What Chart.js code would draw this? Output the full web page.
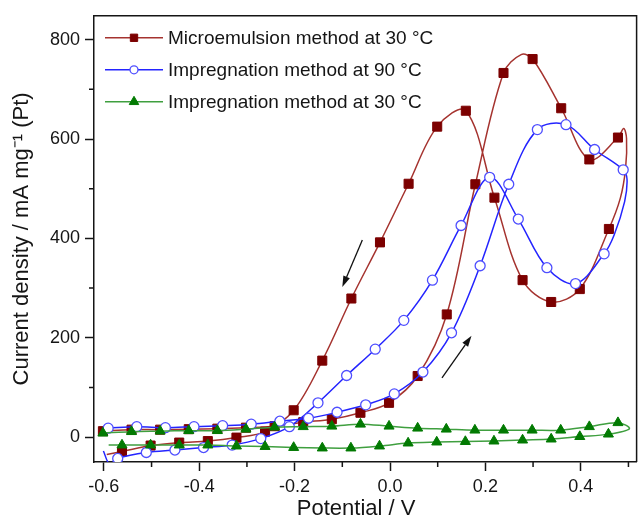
<!DOCTYPE html>
<html>
<head>
<meta charset="utf-8">
<script src="https://cdn.jsdelivr.net/npm/chart.js@4.4.1/dist/chart.umd.min.js"></script>
<style>
  html, body { margin: 0; padding: 0; background: #fff; }
  #wrap { position: relative; width: 644px; height: 518px; }
</style>
</head>
<body>
<div id="wrap"><canvas id="cvChart"></canvas></div>
<script>
// Cyclic voltammograms, current density vs potential
const seriesNames = [
  'Microemulsion method at 30 °C',
  'Impregnation method at 90 °C',
  'Impregnation method at 30 °C'
];

// Microemulsion, 30 °C: forward sweep from -0.6 V, then back from 0.5 V
const microV = [-0.602, -0.542, -0.482, -0.422, -0.362, -0.302, -0.242, -0.182, -0.122, -0.062,
  -0.002, 0.058, 0.119, 0.179, 0.238, 0.275, 0.299, 0.359, 0.418, 0.478,
  0.490, 0.496, 0.494, 0.483, 0.459, 0.398, 0.338, 0.278, 0.219, 0.159,
  0.099, 0.039, -0.021, -0.081, -0.142, -0.202, -0.262, -0.322, -0.382, -0.442,
  -0.502, -0.562, -0.594];
const microJ = [12, 15, 15, 16, 17, 19, 22, 30, 36, 49,
  69, 123, 247, 509, 733, 770, 761, 662, 559, 603,
  621, 601, 541, 481, 419, 298, 272, 316, 482, 657,
  625, 510, 392, 279, 154, 54, 11, -1, -8, -11,
  -17, -29, -35];
// points on the trace without a symbol (peak top, turn at 0.5 V, end)
const microPlain = [15, 20, 21, 22, 23, 42];

// Impregnation, 90 °C
const imp90V = [-0.591, -0.531, -0.471, -0.411, -0.351, -0.291, -0.231, -0.171, -0.111, -0.051,
  0.009, 0.069, 0.129, 0.189, 0.249, 0.309, 0.369, 0.429, 0.489, 0.497,
  0.492, 0.470, 0.449, 0.389, 0.329, 0.269, 0.209, 0.149, 0.089, 0.029,
  -0.031, -0.091, -0.151, -0.211, -0.271, -0.331, -0.391, -0.451, -0.511, -0.571,
  -0.588, -0.601];
const imp90J = [18, 21, 19, 21, 23, 26, 32, 38, 50, 65,
  87, 131, 210, 345, 509, 619, 629, 579, 538, 519,
  474, 407, 369, 309, 341, 439, 523, 426, 316, 235,
  177, 124, 69, 21, -3, -16, -21, -26, -31, -43,
  -54, -28];
const imp90Plain = [19, 20, 21, 40, 41];

// Impregnation, 30 °C
const imp30V = [-0.590, -0.562, -0.502, -0.442, -0.382, -0.322, -0.262, -0.202, -0.142, -0.082,
  -0.022, 0.038, 0.098, 0.158, 0.218, 0.278, 0.338, 0.398, 0.458, 0.502,
  0.478, 0.418, 0.358, 0.298, 0.238, 0.178, 0.118, 0.058, -0.002, -0.062,
  -0.122, -0.182, -0.242, -0.302, -0.362, -0.422, -0.482, -0.542, -0.602];
const imp30J = [-16, -16, -16, -16, -16, -18, -19, -21, -22, -22,
  -18, -12, -10, -9, -8, -6, -4, 1, 6, 17,
  29, 21, 14, 14, 14, 14, 16, 18, 22, 26,
  22, 21, 20, 16, 13, 13, 12, 11, 8];
const imp30Plain = [0, 19];

// axis ticks
const potentialTicks = [-0.6, -0.4, -0.2, 0.0, 0.2, 0.4];
const potentialMinor = [-0.5, -0.3, -0.1, 0.1, 0.3, 0.5];
const currentTicks = [0, 200, 400, 600, 800];
const currentMinor = [100, 300, 500, 700];

// sweep direction arrows, [potential, current] tail -> head
const sweepArrows = [
  { from: [-0.058, 397], to: [-0.100, 302] },
  { from: [0.109, 119], to: [0.171, 204] }
];

const toPoints = (vs, js) => vs.map((v, i) => ({ x: v, y: js[i] }));
const inkColor = '#151515';
const fontFamily = '"Liberation Sans", Arial, Helvetica, sans-serif';

Chart.defaults.font.family = fontFamily;
Chart.defaults.color = inkColor;

// top/right frame edges and minor ticks
const framePlugin = {
  id: 'framePlugin',
  afterDraw(chart) {
    const { ctx, chartArea: a, scales: { x, y } } = chart;
    ctx.save();
    ctx.strokeStyle = inkColor;
    ctx.lineWidth = 1.5;
    ctx.beginPath();
    ctx.moveTo(a.left, a.top);
    ctx.lineTo(a.right, a.top);
    ctx.lineTo(a.right, a.bottom);
    potentialMinor.forEach(v => {
      const px = x.getPixelForValue(v);
      ctx.moveTo(px, a.bottom);
      ctx.lineTo(px, a.bottom + 5);
    });
    currentMinor.forEach(v => {
      const py = y.getPixelForValue(v);
      ctx.moveTo(a.left, py);
      ctx.lineTo(a.left - 5, py);
    });
    ctx.stroke();
    ctx.restore();
  }
};

// black arrows showing scan direction
const arrowPlugin = {
  id: 'arrowPlugin',
  afterDatasetsDraw(chart) {
    const { ctx, scales: { x, y } } = chart;
    ctx.save();
    ctx.strokeStyle = '#111';
    ctx.fillStyle = '#111';
    ctx.lineWidth = 1.3;
    sweepArrows.forEach(ar => {
      const x0 = x.getPixelForValue(ar.from[0]), y0 = y.getPixelForValue(ar.from[1]);
      const x1 = x.getPixelForValue(ar.to[0]), y1 = y.getPixelForValue(ar.to[1]);
      const ang = Math.atan2(y1 - y0, x1 - x0);
      const len = 11, half = 3.5;
      const bx = x1 - len * Math.cos(ang), by = y1 - len * Math.sin(ang);
      ctx.beginPath();
      ctx.moveTo(x0, y0);
      ctx.lineTo(bx, by);
      ctx.stroke();
      ctx.beginPath();
      ctx.moveTo(x1, y1);
      ctx.lineTo(bx + half * Math.sin(ang), by - half * Math.cos(ang));
      ctx.lineTo(bx - half * Math.sin(ang), by + half * Math.cos(ang));
      ctx.closePath();
      ctx.fill();
    });
    ctx.restore();
  }
};

// legend in the upper-left corner of the plot: line + symbol + name
const keyPlugin = {
  id: 'keyPlugin',
  afterDraw(chart) {
    const { ctx, chartArea: a } = chart;
    ctx.save();
    chart.data.datasets.forEach((ds, i) => {
      const yy = a.top + 22 + i * 32;
      const x0 = a.left + 11, x1 = a.left + 69, xm = (x0 + x1) / 2;
      ctx.strokeStyle = ds.borderColor;
      ctx.lineWidth = ds.borderWidth;
      ctx.beginPath();
      ctx.moveTo(x0, yy);
      ctx.lineTo(x1, yy);
      ctx.stroke();
      ctx.fillStyle = ds.pointBackgroundColor;
      ctx.strokeStyle = ds.pointBorderColor;
      ctx.lineWidth = ds.pointBorderWidth;
      Chart.helpers.drawPoint(ctx, {
        pointStyle: ds.pointStyle,
        radius: ds.keyRadius,
        borderWidth: ds.pointBorderWidth,
        rotation: 0
      }, xm, yy);
      ctx.fillStyle = inkColor;
      ctx.font = '19px ' + fontFamily;
      ctx.textBaseline = 'middle';
      ctx.textAlign = 'left';
      ctx.fillText(ds.label, a.left + 74, yy + 1);
    });
    ctx.restore();
  }
};

const ctx = document.getElementById('cvChart').getContext('2d');
const cvChart = new Chart(ctx, {
  type: 'scatter',
  data: {
    datasets: [
      {
        label: seriesNames[0],
        data: toPoints(microV, microJ),
        showLine: true,
        tension: 0.35,
        borderColor: '#a5332f',
        borderWidth: 1.5,
        pointStyle: 'rect',
        pointRadius: c => (microPlain.includes(c.dataIndex) ? 0 : 6.4),
        pointBackgroundColor: '#7c0000',
        pointBorderColor: '#7c0000',
        pointBorderWidth: 1,
        keyRadius: 5.2,
        order: 2
      },
      {
        label: seriesNames[1],
        data: toPoints(imp90V, imp90J),
        showLine: true,
        tension: 0.35,
        borderColor: '#2424ff',
        borderWidth: 1.5,
        pointStyle: 'circle',
        pointRadius: c => (imp90Plain.includes(c.dataIndex) ? 0 : 5),
        pointBackgroundColor: '#ffffff',
        pointBorderColor: '#4f4fff',
        pointBorderWidth: 1.3,
        keyRadius: 4,
        order: 1
      },
      {
        label: seriesNames[2],
        data: toPoints(imp30V, imp30J),
        showLine: true,
        tension: 0.35,
        borderColor: '#3f9f3f',
        borderWidth: 1.5,
        pointStyle: 'triangle',
        pointRadius: c => (imp30Plain.includes(c.dataIndex) ? 0 : 5.8),
        pointBackgroundColor: '#027a02',
        pointBorderColor: '#027a02',
        pointBorderWidth: 1,
        keyRadius: 5.5,
        order: 0
      }
    ]
  },
  options: {
    responsive: true,
    maintainAspectRatio: false,
    animation: false,
    layout: { padding: { top: 14, right: 1, bottom: 0, left: 0 } },
    plugins: {
      legend: { display: false },
      tooltip: { enabled: false }
    },
    scales: {
      x: {
        type: 'linear',
        min: -0.6207,
        max: 0.5171,
        afterBuildTicks: s => { s.ticks = potentialTicks.map(v => ({ value: v })); },
        afterFit: s => { s.height = 56; },
        grid: { drawOnChartArea: false, tickLength: 9, tickColor: inkColor, tickWidth: 1.5 },
        border: { display: true, color: inkColor, width: 1.5 },
        ticks: {
          padding: 5,
          font: { size: 18 },
          color: inkColor,
          maxRotation: 0,
          callback: v => Number(v).toFixed(1)
        },
        title: {
          display: true,
          text: 'Potential / V\u00a0\u00a0\u00a0',
          font: { size: 22 },
          color: inkColor,
          padding: { top: 0, bottom: -4 }
        }
      },
      y: {
        type: 'linear',
        min: -50.1,
        max: 848.1,
        afterBuildTicks: s => { s.ticks = currentTicks.map(v => ({ value: v })); },
        afterFit: s => { s.width = 94; },
        grid: { drawOnChartArea: false, tickLength: 9, tickColor: inkColor, tickWidth: 1.5 },
        border: { display: true, color: inkColor, width: 1.5 },
        ticks: {
          padding: 5,
          font: { size: 18 },
          color: inkColor,
          callback: v => String(v)
        },
        title: {
          display: true,
          text: 'Current density / mA mg\u207B\u00B9 (Pt)',
          font: { size: 22 },
          color: inkColor,
          padding: { top: 9, bottom: 0 }
        }
      }
    }
  },
  plugins: [framePlugin, arrowPlugin, keyPlugin]
});
</script>
</body>
</html>
